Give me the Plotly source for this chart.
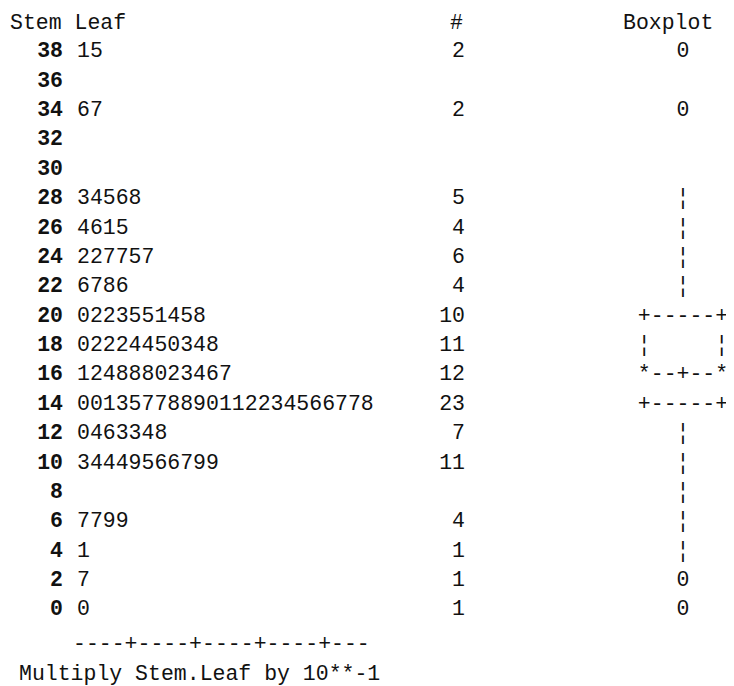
import plotly.graph_objects as go

# ---- data (SAS-style stem-and-leaf output) ----
stems = [38, 36, 34, 32, 30, 28, 26, 24, 22, 20, 18, 16, 14, 12, 10, 8, 6, 4, 2, 0]
leaves = ["15", "", "67", "", "", "34568", "4615", "227757", "6786",
          "0223551458", "02224450348", "124888023467",
          "00135778890112234566778", "0463348", "34449566799", "",
          "7799", "1", "7", "0"]
counts = [2, None, 2, None, None, 5, 4, 6, 4, 10, 11, 12, 23, 7, 11, None,
          4, 1, 1, 1]
boxplot = ["0", "", "0", "", "", "¦", "¦", "¦", "¦",
           "+-----+", "¦     ¦", "*--+--*", "+-----+",
           "¦", "¦", "¦", "¦", "¦", "0", "0"]
header_stemleaf = "Stem Leaf"
header_count = "#"
header_box = "Boxplot"
axis_ruler = "----+----+----+----+---"
footer = "Multiply Stem.Leaf by 10**-1"

# ---- styling / layout constants (x in screen pixels) ----
VIEW_W, VIEW_H = 734, 686
PAGE_OFFSET = 8  # browser body margin
W, H = VIEW_W - PAGE_OFFSET, VIEW_H - PAGE_OFFSET
MONO = "Liberation Mono, DejaVu Sans Mono, monospace"
FS = 21.5
INK = "#111111"
X_STEM_R = 63
X_LEAF_L = 77
X_COUNT_R = 465
X_BOX_C = 683
X_HEADER_L = 8
X_FOOTER_L = 17
Y_HEADER = 40
Y_RULER = -2.3
Y_FOOTER = -4.35
PX_PER_STEM = 14.684
Y_ZERO_PX = 610
X_RANGE = [PAGE_OFFSET, VIEW_W]
Y_RANGE = [-(VIEW_H - Y_ZERO_PX) / PX_PER_STEM,
           (Y_ZERO_PX - PAGE_OFFSET) / PX_PER_STEM]

def nb(s):
    return s.replace(" ", "\u00a0")

fig = go.Figure()

# stems (bold, right-aligned)
fig.add_trace(go.Scatter(
    x=[X_STEM_R] * len(stems), y=stems, mode="text",
    text=[str(s) for s in stems], textposition="middle left",
    textfont=dict(family=MONO, size=FS, color=INK, weight="bold"),
    hoverinfo="skip"))

# leaves (left-aligned)
fig.add_trace(go.Scatter(
    x=[X_LEAF_L] * len(stems), y=stems, mode="text",
    text=leaves, textposition="middle right",
    textfont=dict(family=MONO, size=FS, color=INK),
    hoverinfo="skip"))

# counts (right-aligned)
fig.add_trace(go.Scatter(
    x=[X_COUNT_R] * len(stems), y=stems, mode="text",
    text=["" if c is None else str(c) for c in counts],
    textposition="middle left",
    textfont=dict(family=MONO, size=FS, color=INK),
    hoverinfo="skip"))

# boxplot column (centered)
fig.add_trace(go.Scatter(
    x=[X_BOX_C] * len(stems), y=stems, mode="text",
    text=[nb(b) for b in boxplot], textposition="middle center",
    textfont=dict(family=MONO, size=FS, color=INK),
    hoverinfo="skip"))

def note(x, y, s, anchor):
    fig.add_annotation(x=x, y=y, xref="x", yref="y", text=nb(s),
                       showarrow=False, xanchor=anchor, yanchor="middle",
                       font=dict(family=MONO, size=FS, color=INK))

note(X_HEADER_L, Y_HEADER, header_stemleaf, "left")
note(X_COUNT_R, Y_HEADER, header_count, "right")
note(X_BOX_C - 15, Y_HEADER, header_box, "center")
note(X_LEAF_L - 6, Y_RULER, axis_ruler, "left")
note(X_FOOTER_L, Y_FOOTER, footer, "left")

fig.update_layout(
    width=W, height=H,
    margin=dict(l=0, r=0, t=0, b=0),
    paper_bgcolor="white", plot_bgcolor="white",
    showlegend=False,
    xaxis=dict(range=X_RANGE, visible=False, fixedrange=True),
    yaxis=dict(range=Y_RANGE, visible=False, fixedrange=True),
)

fig.write_html("out.html")
